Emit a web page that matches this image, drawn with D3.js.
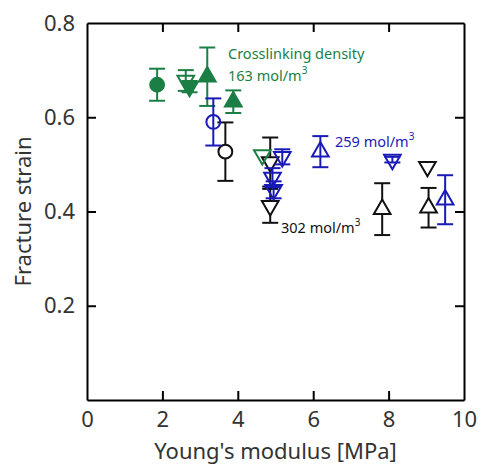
<!DOCTYPE html>
<html>
<head>
<meta charset="utf-8">
<script src="https://cdn.jsdelivr.net/npm/d3@7"></script>
<style>
  body { margin: 0; background: #fff; }
  svg text { font-family: "Noto Sans", "Open Sans", sans-serif; }
</style>
</head>
<body>
<div id="chart"></div>
<script>
// 数据 (Young's modulus [MPa], fracture strain, error, marker)
const greenX     = [1.86, 2.62, 2.72, 3.19, 3.88, 4.65];
const greenY     = [0.669, 0.678, 0.665, 0.686, 0.633, 0.520];
const greenErr   = [0.034, 0.022, 0.012, 0.062, 0.024, 0];
const greenShape = ["circle", "down", "down", "up", "up", "down"];
const greenFill  = [true, false, true, true, true, false];

const blueX     = [3.35, 5.18, 4.92, 4.95, 6.19, 8.10, 9.50];
const blueY     = [0.590, 0.516, 0.472, 0.446, 0.527, 0.510, 0.425];
const blueErr   = [0.050, 0.016, 0.020, 0.018, 0.033, 0.006, 0.052];
const blueShape = ["circle", "down", "down", "down", "up", "down", "up"];

const blackX     = [3.67, 4.86, 4.86, 7.83, 9.03, 9.06];
const blackY     = [0.527, 0.505, 0.412, 0.405, 0.495, 0.408];
const blackErr   = [0.062, 0.052, 0.036, 0.055, 0, 0.042];
const blackShape = ["circle", "down", "down", "up", "down", "up"];

const xTicks = [0, 2, 4, 6, 8, 10];
const yTicks = [0.2, 0.4, 0.6, 0.8];

const W = 482, H = 465;
const margin = {left: 87, right: 18, top: 23, bottom: 65};

const svg = d3.select("#chart").append("svg")
  .attr("width", W).attr("height", H);

const x = d3.scaleLinear().domain([0, 10]).range([margin.left, W - margin.right]);
const y = d3.scaleLinear().domain([0, 0.8]).range([H - margin.bottom, margin.top]);

const GREEN = "#1b7f45", BLUE = "#1a1ab8", BLACK = "#111";

// 坐标轴（刻度朝内）
const tickLen = 9;
svg.append("g").attr("transform", `translate(0,${y(0)})`)
  .call(d3.axisBottom(x).tickValues(xTicks).tickSizeInner(-tickLen).tickSizeOuter(0).tickPadding(11));
svg.append("g").attr("transform", `translate(0,${y(0.8)})`)
  .call(d3.axisTop(x).tickValues(xTicks).tickSizeInner(-tickLen).tickSizeOuter(0).tickFormat(""));
svg.append("g").attr("transform", `translate(${x(0)},0)`)
  .call(d3.axisLeft(y).tickValues(yTicks).tickSizeInner(-tickLen).tickSizeOuter(0).tickPadding(12).tickFormat(d3.format(".1f")));
svg.append("g").attr("transform", `translate(${x(10)},0)`)
  .call(d3.axisRight(y).tickValues(yTicks).tickSizeInner(-tickLen).tickSizeOuter(0).tickFormat(""));

svg.selectAll(".domain, .tick line").attr("stroke", "#000").attr("stroke-width", 2);
svg.selectAll(".tick text").attr("font-size", 22).attr("fill", "#333");
// 端点刻度线与边框重合，隐藏
svg.selectAll(".tick").filter(d => d === 0 || d === 10 || d === 0.8)
  .select("line").attr("opacity", 0);

// 轴标题
svg.append("text").attr("x", (x(0) + x(10)) / 2).attr("y", 459)
  .attr("text-anchor", "middle").attr("font-size", 22).attr("fill", "#333")
  .text("Young's modulus [MPa]");
svg.append("text").attr("transform", `translate(31,${(y(0) + y(0.8)) / 2}) rotate(-90)`)
  .attr("text-anchor", "middle").attr("font-size", 22).attr("fill", "#333")
  .text("Fracture strain");

// 绘制一组数据
function drawGroup(xs, ys, errs, shapes, fills, color) {
  const data = xs.map((v, i) => ({x: v, y: ys[i], e: errs[i], s: shapes[i], f: fills[i]}));
  const g = svg.append("g");
  const cap = 8;
  data.forEach(d => {
    if (d.e > 0) {
      const cx = x(d.x);
      g.append("line").attr("x1", cx).attr("x2", cx)
        .attr("y1", y(d.y - d.e)).attr("y2", y(d.y + d.e));
      g.append("line").attr("x1", cx - cap).attr("x2", cx + cap)
        .attr("y1", y(d.y + d.e)).attr("y2", y(d.y + d.e));
      g.append("line").attr("x1", cx - cap).attr("x2", cx + cap)
        .attr("y1", y(d.y - d.e)).attr("y2", y(d.y - d.e));
    }
  });
  g.selectAll("line").attr("stroke", color).attr("stroke-width", 2);

  g.selectAll("path.mk").data(data).join("path")
    .attr("class", "mk")
    .attr("d", d => d.s === "circle"
      ? d3.symbol(d3.symbolCircle, 150)()
      : d3.symbol(d3.symbolTriangle, 120)())
    .attr("transform", d => `translate(${x(d.x)},${y(d.y)})${d.s === "down" ? " rotate(180)" : ""}`)
    .attr("fill", d => d.f === true ? color : (d.f === "white" ? "#fff" : "none"))
    .attr("stroke", color).attr("stroke-width", 2);
}

drawGroup(blackX, blackY, blackErr, blackShape, blackX.map(() => "white"), BLACK);
drawGroup(greenX, greenY, greenErr, greenShape, greenFill, GREEN);
drawGroup(blueX, blueY, blueErr, blueShape, blueX.map(() => false), BLUE);

// 标注
function label(px, py, txt, color) {
  const t = svg.append("text").attr("x", px).attr("y", py)
    .attr("font-size", 14.5).attr("fill", color);
  t.append("tspan").text(txt);
  if (txt.endsWith("mol/m")) {
    t.append("tspan").attr("dy", -7).attr("font-size", 10).text("3");
  }
}
label(228, 59, "Crosslinking density", GREEN);
label(228, 81, "163 mol/m", GREEN);
label(335, 147, "259 mol/m", BLUE);
label(281, 233, "302 mol/m", BLACK);
</script>
</body>
</html>
